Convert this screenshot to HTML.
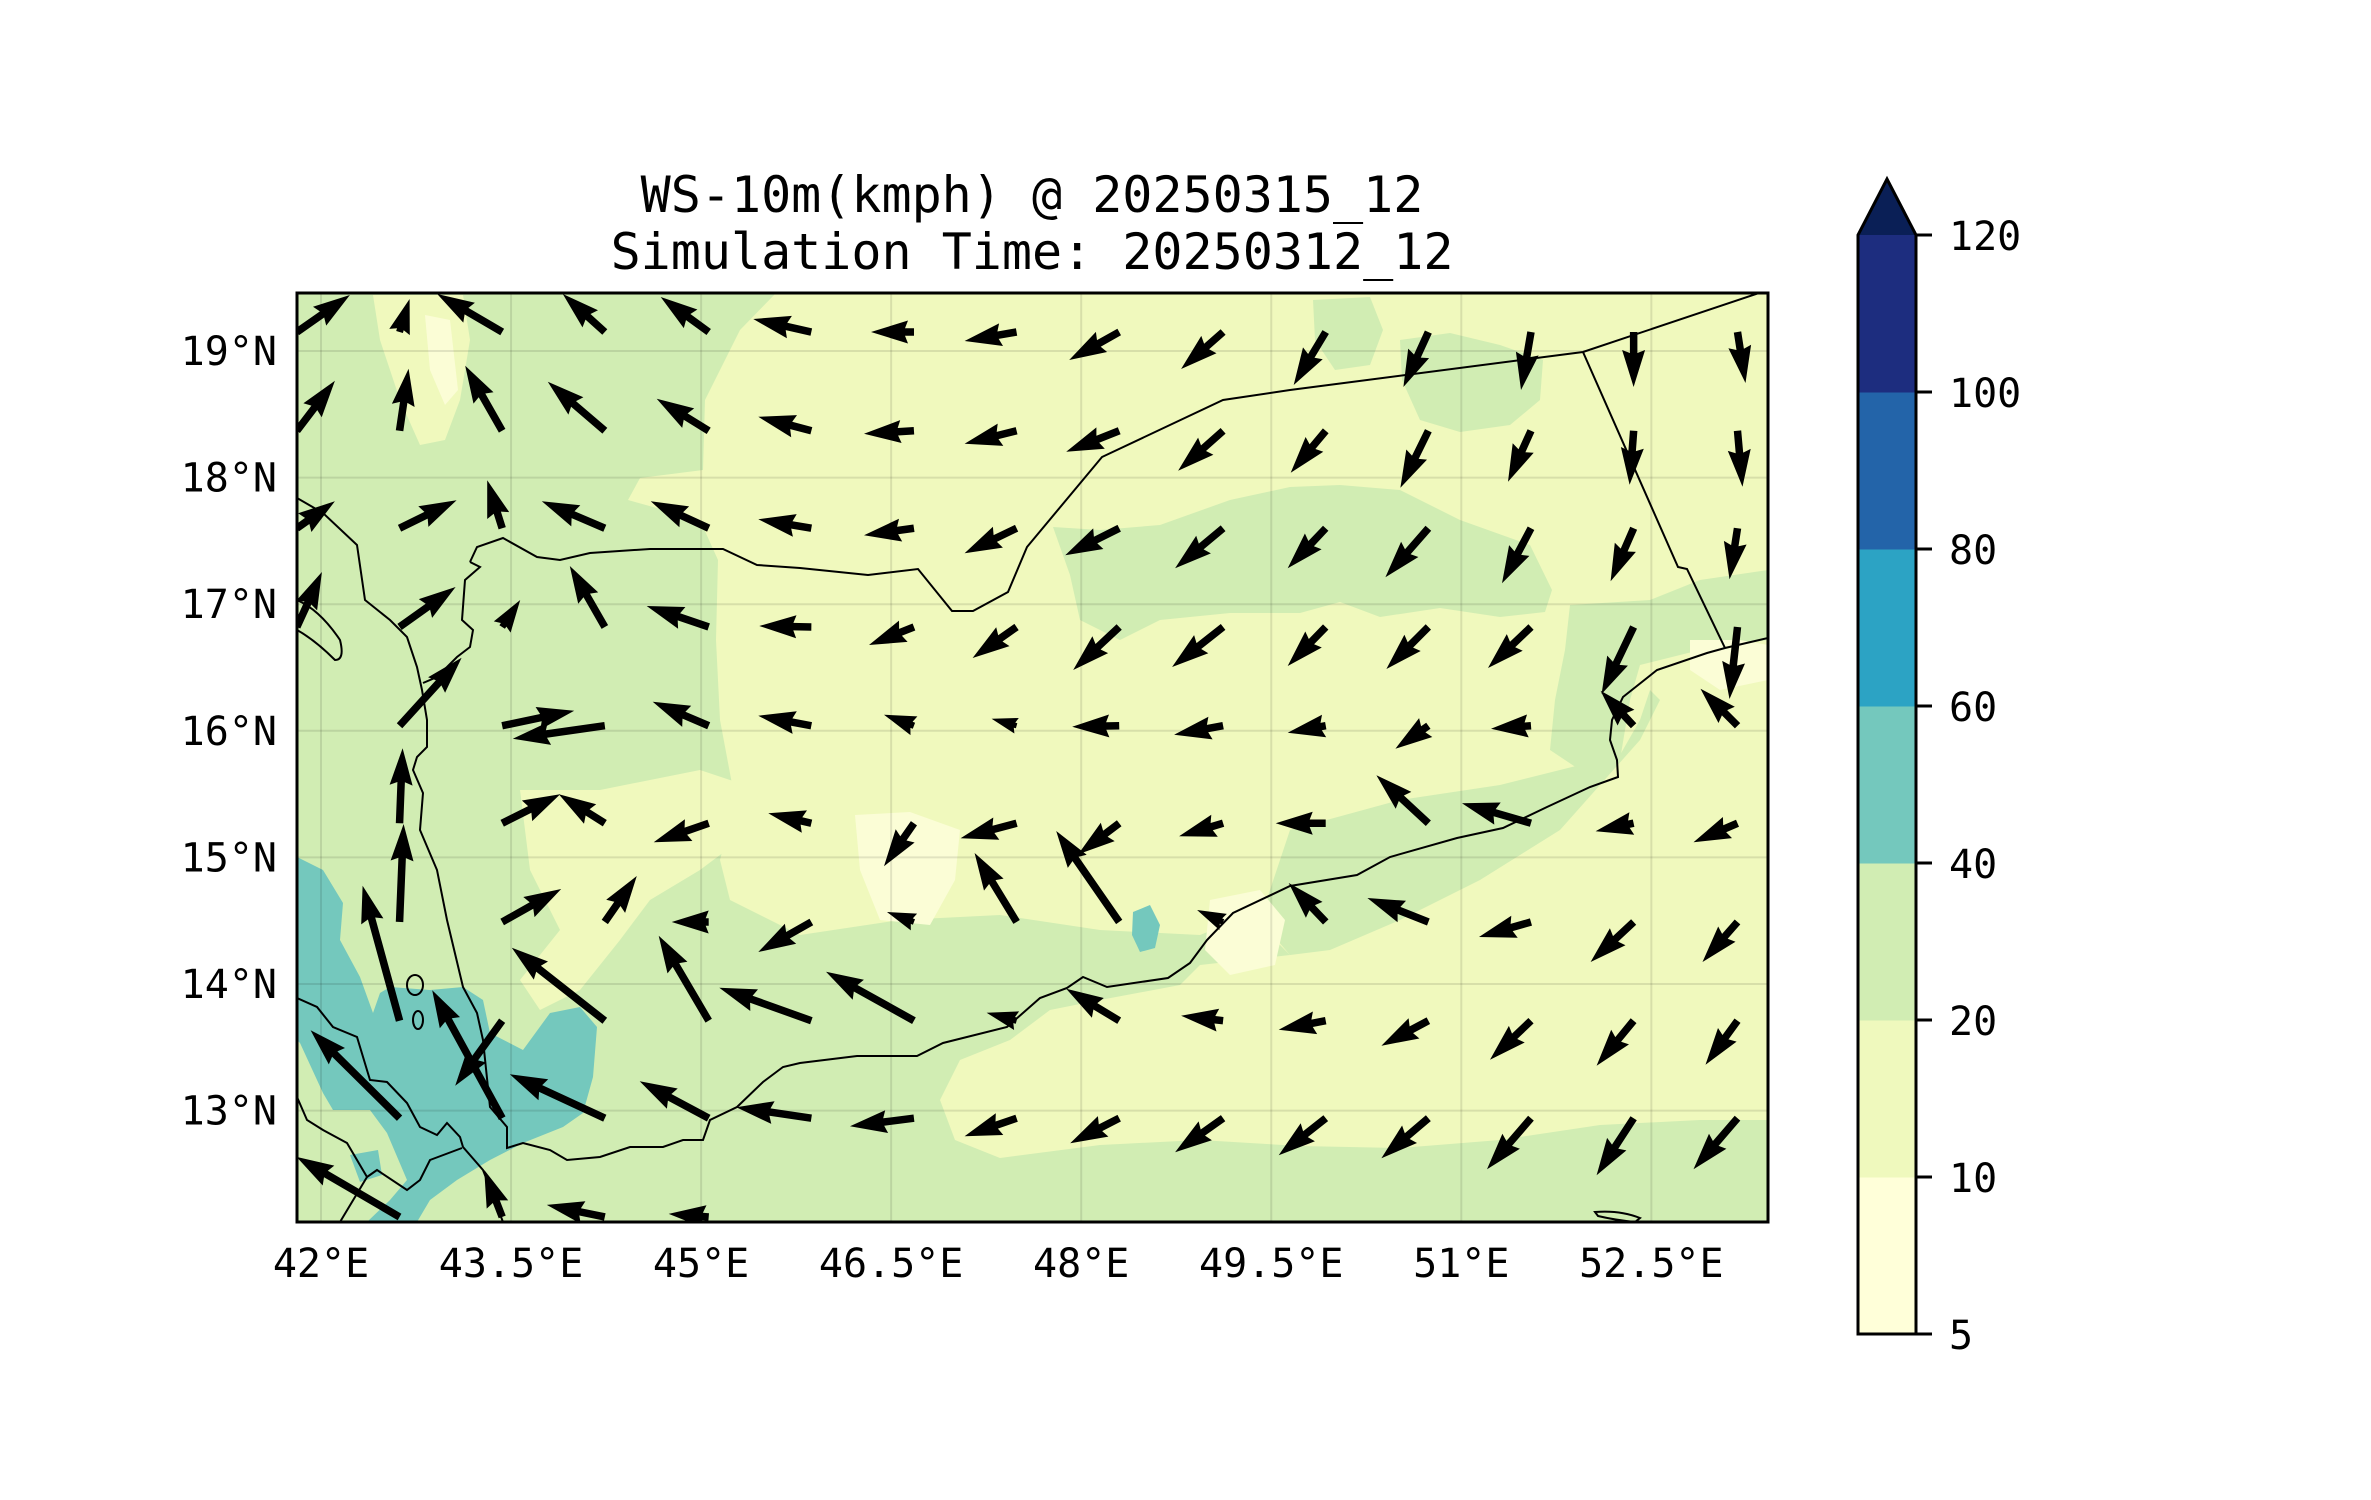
<!DOCTYPE html>
<html><head><meta charset="utf-8"><style>
html,body{margin:0;padding:0;background:#fff;}
svg{display:block;}
text{font-family:"DejaVu Sans Mono","Liberation Mono",monospace;fill:#000;}
</style></head><body>
<svg id="fig" width="2371" height="1500" viewBox="0 0 2371 1500" xmlns="http://www.w3.org/2000/svg">
<defs><clipPath id="mapclip"><rect x="297" y="293" width="1471" height="929"/></clipPath></defs>
<g>
<text x="1032" y="212" font-size="50" text-anchor="middle">WS-10m(kmph) @ 20250315_12</text>
<text x="1032" y="269" font-size="50" text-anchor="middle">Simulation Time: 20250312_12</text>
</g>
<g clip-path="url(#mapclip)">
<rect x="297" y="293" width="1471" height="929" fill="#f0f9bd"/>
<g fill="#d1edb3">
<polygon points="297,293 776,293 740,330 705,400 703,470 640,478 628,500 700,520 718,560 716,640 720,720 735,800 720,860 730,900 800,935 900,920 1000,915 1100,930 1200,935 1250,915 1290,955 1200,965 1180,985 1100,1000 1050,1010 1010,1040 960,1060 940,1100 955,1140 1000,1158 1100,1145 1200,1140 1300,1146 1400,1148 1500,1140 1600,1125 1700,1120 1768,1120 1768,1222 297,1222"/>
<polygon points="1290,830 1400,800 1500,785 1560,770 1620,755 1640,720 1650,690 1660,700 1640,740 1560,830 1480,880 1400,920 1330,950 1290,955 1260,920"/>
<polygon points="1400,340 1450,333 1500,345 1543,360 1540,400 1510,425 1460,432 1420,420 1402,380"/>
<polygon points="1313,300 1370,297 1383,330 1370,365 1335,370 1315,340"/>
<polygon points="1053,527 1100,530 1160,525 1230,500 1290,487 1340,485 1400,490 1460,520 1530,545 1552,590 1545,612 1500,617 1440,608 1380,617 1340,602 1300,613 1230,613 1160,620 1120,640 1080,620 1070,575"/>
<polygon points="1570,605 1650,600 1700,580 1768,570 1768,640 1700,650 1640,665 1630,700 1620,760 1580,770 1550,750 1555,700 1565,650"/>
</g>
<g fill="#f0f9bd">
<polygon points="373,295 463,295 470,340 460,400 445,440 420,445 400,400 380,340"/>
<polygon points="520,790 600,790 700,770 760,790 740,840 700,870 650,900 620,940 580,990 540,1010 520,980 560,930 530,870"/>
</g>
<g fill="#fbfdd6">
<polygon points="425,315 450,320 458,390 445,405 430,370"/>
<polygon points="855,815 910,812 960,830 955,880 930,925 880,920 860,870"/>
<polygon points="1210,900 1260,890 1285,920 1275,965 1230,975 1205,950"/>
<polygon points="1690,640 1740,640 1768,645 1768,680 1720,690 1690,670"/>
</g>
<g fill="#74c8bd">
<polygon points="297,857 323,870 343,903 340,940 360,977 373,1013 380,993 390,987 430,990 463,987 483,1000 490,1033 523,1050 550,1013 580,1007 597,1027 593,1077 583,1113 563,1127 523,1143 490,1160 457,1180 430,1200 417,1222 367,1222 390,1200 407,1180 387,1133 370,1110 333,1110 323,1093 300,1043 297,1040"/>
<polygon points="350,1155 378,1150 382,1175 360,1182"/>
<polygon points="1133,912 1150,905 1160,925 1155,948 1140,952 1132,935"/>
</g>
<g stroke="#000" stroke-opacity="0.1" stroke-width="2" id="grid"></g>
<g fill="none" stroke="#000" stroke-width="2">
<polyline points="297,498 323,513 357,545 365,600 380,612 390,620 407,637 417,667 422,690 427,720 427,747 417,757 413,770 423,793 420,830 437,870 447,920 463,987 477,1013 483,1040 490,1107 507,1127 507,1148 523,1143 550,1150 567,1160 600,1157 630,1147 663,1147 683,1140 703,1140 710,1120 737,1107 763,1082 783,1067 800,1063 857,1056 917,1056 943,1043 1007,1027 1040,998 1067,988 1083,977 1107,987 1168,978 1190,963 1207,940 1233,913 1290,886 1357,875 1390,857 1457,838 1503,828 1547,807 1590,787 1618,777 1617,760 1610,740 1612,720 1623,697 1657,670 1707,653 1725,648 1768,638"/>
<polyline points="470,562 477,547 503,538 537,557 560,560 590,553 650,549 723,549 757,565 800,568 868,575 918,569 952,611 973,611 1008,592 1027,547 1102,457 1223,400 1290,390 1583,352 1768,290"/>
<polyline points="1583,352 1678,567 1687,569 1725,648"/>
<polyline points="470,562 480,567 465,580 462,620 473,630 470,647 457,657 437,677 423,683"/>
<polyline points="297,998 317,1007 333,1027 357,1037 370,1080 387,1082 407,1103 420,1127 437,1135 447,1123 460,1137 463,1147 483,1170 503,1222"/>
<polyline points="297,1097 307,1120 323,1130 347,1143 367,1177 340,1222"/>
<polyline points="367,1177 377,1170 407,1190 420,1180 430,1160 462,1148"/>
<ellipse cx="415" cy="985" rx="8" ry="10"/><ellipse cx="418" cy="1020" rx="5" ry="9"/>
<path d="M297,600 Q320,610 340,640 Q345,660 335,660 Q315,640 297,630"/>
<path d="M1595,1212 Q1620,1210 1640,1218 L1635,1222 Q1615,1220 1598,1216 Z"/>
</g>
<g id="quiver"></g>
</g>
<rect x="297" y="293" width="1471" height="929" fill="none" stroke="#000" stroke-width="3"/>
<g id="xticks"></g>
<g id="yticks"></g>
<g id="colorbar"></g>
</svg>
<script>
const lonGrid = [41.81,42.62,43.43,44.24,45.06,45.87,46.68,47.49,48.30,49.12,49.93,50.74,51.55,52.36,53.18];
const latGrid = [19.15,18.37,17.60,16.82,16.04,15.27,14.49,13.71,12.94,12.16];
const uWind = [
[53,10,-65,-42,-48,-58,-43,-52,-50,-42,-32,-25,-10,0,8],
[38,9,-37,-57,-52,-53,-50,-52,-53,-45,-35,-28,-23,-4,5],
[38,57,-15,-63,-58,-53,-50,-52,-54,-48,-38,-43,-29,-23,-8],
[25,56,18,-35,-62,-52,-45,-44,-46,-51,-38,-42,-43,-32,-8],
[-40,62,72,-92,-56,-53,-30,-25,-47,-49,-38,-33,-40,-33,-37],
[-40,3,58,-46,-55,-43,-30,-56,-41,-44,-50,-52,-69,-38,-44],
[-40,4,59,32,-37,-53,-27,-42,-63,-26,-37,-61,-52,-43,-35],
[-40,-37,-47,-93,-50,-92,-88,-30,-53,-42,-47,-47,-41,-37,-32],
[-40,-89,-70,-95,-69,-75,-64,-52,-49,-48,-47,-47,-44,-37,-44],
[-40,-103,-18,-58,-40,0,0,0,0,0,0,0,0,0,0]
];
const vWind = [
[37,33,38,38,35,13,0,-9,-28,-37,-53,-55,-58,-55,-51],
[50,62,65,49,32,14,-3,-13,-21,-40,-42,-57,-51,-54,-56],
[27,28,48,27,27,9,-7,-25,-27,-40,-40,-49,-55,-53,-51],
[55,40,27,61,21,1,-18,-31,-43,-40,-39,-42,-41,-67,-72],
[0,68,15,-13,24,10,11,7,-1,-9,-7,-23,-3,35,37],
[0,75,29,29,-19,10,-43,-15,-31,-13,0,48,20,-8,-19],
[0,98,33,46,0,-30,10,69,91,12,39,24,-15,-40,-40],
[0,135,-65,73,85,33,49,8,32,5,-9,-25,-39,-45,-44],
[0,88,128,44,37,11,-8,-18,-25,-34,-37,-40,-51,-57,-51],
[0,60,47,12,3,0,0,0,0,0,0,0,0,0,0]
];
const xTickLons = [42,43.5,45,46.5,48,49.5,51,52.5];
const xTickLabels = ["42°E","43.5°E","45°E","46.5°E","48°E","49.5°E","51°E","52.5°E"];
const yTickLats = [13,14,15,16,17,18,19];
const yTickLabels = ["13°N","14°N","15°N","16°N","17°N","18°N","19°N"];
const cbLevels = [5,10,20,40,60,80,100,120];
const cbColors = ["#ffffd9","#eff9bd","#d1edb3","#74c8bd","#2ca3c4","#2364a9","#1d2d7f"];
const cbExtendColor = "#0a1f56";

const NS = "http://www.w3.org/2000/svg";
function xOf(lon){ return 321 + (lon - 42) * 126.7; }
function yOf(lat){ return 351 + (19 - lat) * 126.6; }
const QSCALE = 1.0;
function mk(tag, attrs, parent){
  const e = document.createElementNS(NS, tag);
  for (const k in attrs) e.setAttribute(k, attrs[k]);
  parent.appendChild(e); return e;
}

const grid = document.getElementById('grid');
xTickLons.forEach(function(lon){
  const l = mk('line', {x1: xOf(lon), x2: xOf(lon), y1: 293, y2: 1222}, grid);
  
  
});
yTickLats.forEach(function(lat){
  const l = mk('line', {x1: 297, x2: 1768, y1: yOf(lat), y2: yOf(lat)}, grid);
  
  
});

const q = document.getElementById('quiver');
const W = 7.5, HL = 37, HAL = 34, HW = 11.5;
for (let j = 0; j < latGrid.length; j++) {
  for (let i = 0; i < lonGrid.length; i++) {
    const x0 = xOf(lonGrid[i]), y0 = yOf(latGrid[j]);
    const dx = uWind[j][i] * QSCALE, dy = -vWind[j][i] * QSCALE;
    const L = Math.hypot(dx, dy);
    if (L < 1) continue;
    let s = L < HL ? L / HL : 1;
    const w = W * s / 2, hl = HL * s, hal = HAL * s, hw = HW * s;
    const pts = [[0, w], [L - hal, w], [L - hl, hw], [L, 0], [L - hl, -hw], [L - hal, -w], [0, -w]];
    const c = dx / L, sn = dy / L;
    const p = pts.map(function(pt){ return (x0 + pt[0]*c - pt[1]*sn).toFixed(1) + ',' + (y0 + pt[0]*sn + pt[1]*c).toFixed(1); }).join(' ');
    const poly = mk('polygon', {points: p, fill: '#000'}, q);
    
    
  }
}

const xt = document.getElementById('xticks');
xTickLons.forEach(function(lon, k){
  const t = mk('text', {x: xOf(lon), y: 1277, 'font-size': 40, 'text-anchor': 'middle'}, xt);
  t.textContent = xTickLabels[k];
  
  
});
const yt = document.getElementById('yticks');
yTickLats.forEach(function(lat, k){
  const t = mk('text', {x: 277, y: yOf(lat) + 14, 'font-size': 40, 'text-anchor': 'end'}, yt);
  t.textContent = yTickLabels[k];
  
  
});

const cb = document.getElementById('colorbar');
const cbX = 1858, cbW = 58, cbBottom = 1334, cbStep = 157;
function cbY(k){ return cbBottom - k * cbStep; }
for (let k = 0; k < cbColors.length; k++) {
  const r = mk('rect', {x: cbX, y: cbY(k+1), width: cbW, height: cbStep + 0.5, fill: cbColors[k]}, cb);
  
  
}
const topY = cbY(cbLevels.length - 1);
const tri = mk('polygon', {points: cbX + ',' + topY + ' ' + (cbX + cbW/2) + ',179 ' + (cbX + cbW) + ',' + topY, fill: cbExtendColor}, cb);


const outline = mk('path', {d: 'M' + cbX + ',' + cbBottom + ' L' + cbX + ',' + topY + ' L' + (cbX + cbW/2) + ',179 L' + (cbX + cbW) + ',' + topY + ' L' + (cbX + cbW) + ',' + cbBottom + ' Z', fill: 'none', stroke: '#000', 'stroke-width': 3}, cb);


cbLevels.forEach(function(lv, k){
  const y = cbY(k);
  const tk = mk('line', {x1: cbX + cbW, x2: cbX + cbW + 16, y1: y, y2: y, stroke: '#000', 'stroke-width': 3}, cb);
  
  
  const t = mk('text', {x: 1949, y: y + 15, 'font-size': 40}, cb);
  t.textContent = String(lv);
  
  
});
</script>
</body></html>
